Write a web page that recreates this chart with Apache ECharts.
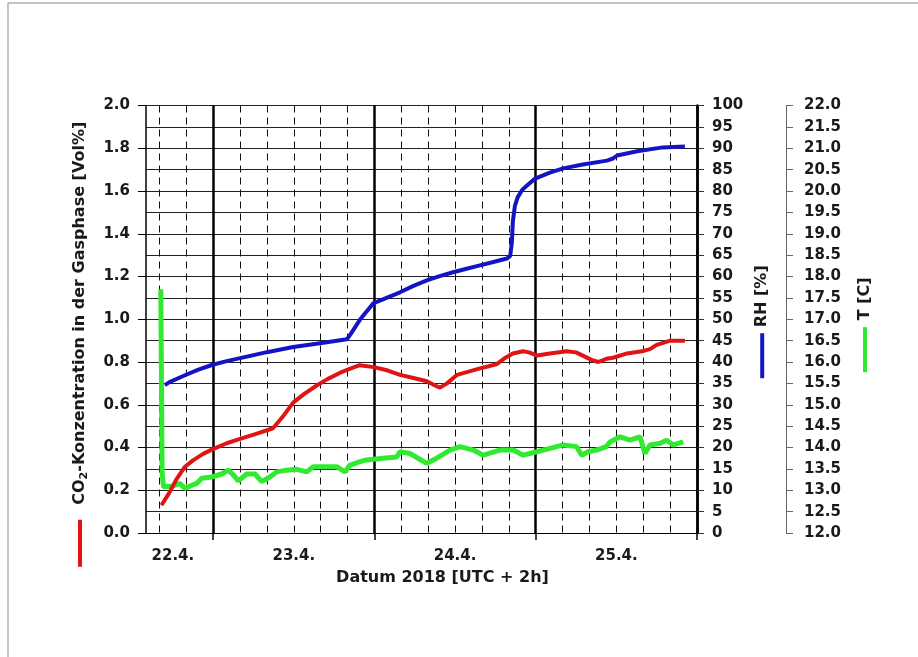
<!DOCTYPE html>
<html>
<head>
<meta charset="utf-8">
<script src="https://cdn.jsdelivr.net/npm/echarts@6/dist/echarts.min.js"></script>
<style>html,body{margin:0;padding:0;background:#fff;}#c{width:918px;height:657px;}</style>
</head>
<body>
<div id="c"></div>
<script>
// x values: hours since 22.4.2018 00:00 (UTC + 2h)
const dayLabelHours = [18, 36, 60, 84];
const dayLabels = ['22.4.', '23.4.', '24.4.', '25.4.'];
const dayBoundaryHours = [24, 48, 72, 96];
const fourHourHours = [16, 20, 28, 32, 36, 40, 44, 52, 56, 60, 64, 68, 76, 80, 84, 88, 92];

const co2Hours = [16.3, 17.5, 18.5, 19.8, 21.0, 22.5, 23.8, 26.0, 28.0, 30.5, 32.9, 34.5, 35.9, 37.5, 39.4, 41.0, 42.9, 44.5, 45.8, 47.9, 50.0, 51.8, 53.8, 55.8, 57.0, 57.75, 58.8, 60.3, 62.0, 63.7, 65.0, 66.2, 67.5, 68.6, 70.1, 71.0, 72.2, 74.1, 76.6, 78.0, 79.0, 80.3, 81.3, 82.5, 83.5, 85.6, 87.8, 89.0, 90.0, 92.0, 94.2];
const co2Values = [0.13, 0.19, 0.25, 0.31, 0.34, 0.37, 0.39, 0.42, 0.44, 0.465, 0.49, 0.55, 0.61, 0.65, 0.69, 0.72, 0.75, 0.77, 0.785, 0.776, 0.76, 0.74, 0.725, 0.71, 0.69, 0.68, 0.70, 0.74, 0.755, 0.77, 0.78, 0.79, 0.82, 0.84, 0.85, 0.845, 0.83, 0.84, 0.85, 0.845, 0.83, 0.81, 0.80, 0.815, 0.82, 0.84, 0.85, 0.86, 0.88, 0.90, 0.90];

const rhHours = [16.8, 17.5, 19.8, 21.8, 23.8, 26.0, 28.0, 32.0, 35.9, 39.9, 43.9, 44.4, 45.8, 47.8, 49.8, 51.8, 53.8, 55.8, 57.7, 59.7, 61.7, 63.7, 65.7, 67.7, 68.2, 68.45, 68.6, 68.9, 69.3, 70.0, 70.7, 71.9, 74.1, 76.1, 79.0, 82.6, 83.5, 84.1, 87.1, 90.9, 94.2];
const rhValues = [34.6, 35.3, 36.9, 38.2, 39.3, 40.2, 40.9, 42.3, 43.5, 44.4, 45.3, 46.4, 49.8, 53.7, 55.0, 56.3, 57.8, 59.1, 60.1, 61.0, 61.8, 62.6, 63.4, 64.2, 64.8, 68.0, 73.0, 76.5, 78.5, 80.3, 81.3, 82.9, 84.3, 85.3, 86.2, 87.1, 87.6, 88.3, 89.3, 90.2, 90.4];

const tHours = [16.2, 16.4, 16.6, 16.83, 18.06, 19.06, 19.8, 20.55, 21.54, 22.29, 23.78, 25.27, 26.25, 26.99, 27.74, 28.99, 30.22, 31.22, 32.45, 33.45, 34.94, 36.43, 37.91, 38.9, 40.38, 42.38, 43.61, 44.36, 45.85, 46.84, 49.31, 51.31, 51.8, 53.29, 55.77, 57.26, 59.24, 60.73, 62.71, 64.19, 66.68, 68.66, 70.15, 72.14, 74.12, 76.1, 78.09, 78.84, 79.8, 81.07, 82.5, 83.05, 84.54, 86.02, 87.51, 88.26, 89.0, 90.5, 91.49, 92.47, 93.96];
const tValues = [17.7, 13.4, 13.08, 13.04, 13.1, 13.16, 13.04, 13.1, 13.16, 13.28, 13.31, 13.38, 13.47, 13.36, 13.22, 13.38, 13.38, 13.2, 13.31, 13.43, 13.47, 13.49, 13.43, 13.55, 13.55, 13.55, 13.43, 13.59, 13.67, 13.71, 13.75, 13.78, 13.9, 13.86, 13.63, 13.75, 13.94, 14.02, 13.94, 13.82, 13.94, 13.94, 13.82, 13.9, 13.98, 14.06, 14.02, 13.82, 13.9, 13.94, 14.02, 14.13, 14.25, 14.17, 14.25, 13.86, 14.06, 14.1, 14.17, 14.06, 14.13];

const pair = (xs, ys) => xs.map((x, i) => [x, ys[i]]);
const FONT = 'DejaVu Sans';
const TXT = '#1a1a1a';
const RED = '#e01414', BLUE = '#1414c4', GREEN = '#30ea30';

const labelStyle = { fontFamily: FONT, fontWeight: 'bold', fontSize: 15, color: TXT };
function nameRich(barColor, barLen, gap, pad) {
  return {
    fontFamily: FONT, fontWeight: 'bold', fontSize: 16, color: TXT,
    rich: {
      t: { fontFamily: FONT, fontWeight: 'bold', fontSize: 16, color: TXT, lineHeight: 20 },
      s: { fontFamily: FONT, fontWeight: 'bold', fontSize: 11, color: TXT, lineHeight: 11, verticalAlign: 'bottom' },
      bar: { width: barLen, height: 4, backgroundColor: barColor, verticalAlign: 'middle' },
      g: { width: gap },
      pad: { width: pad }
    }
  };
}

const chart = echarts.init(document.getElementById('c'), null, { renderer: 'canvas' });
chart.setOption({
  backgroundColor: '#fff',
  animation: false,
  graphic: [{ type: 'rect', shape: { x: 8, y: 3, width: 960, height: 700 }, style: { fill: 'none', stroke: '#8a8a8a', lineWidth: 1 }, silent: true }],
  grid: { left: 146, right: 221, top: 105.5, bottom: 124 },
  xAxis: [
    {
      type: 'value', min: 14, max: 96, position: 'bottom',
      axisLine: { show: true, onZero: false, lineStyle: { color: '#000', width: 1 } },
      axisTick: { show: true, customValues: dayBoundaryHours, length: 7, lineStyle: { color: '#000', width: 1.5 } },
      axisLabel: { customValues: dayLabelHours, margin: 16, ...labelStyle, formatter: v => dayLabels[dayLabelHours.indexOf(v)] || '' },
      splitLine: { show: true, lineStyle: { color: '#000', width: 2.5 } },
      name: 'Datum 2018 [UTC + 2h]', nameLocation: 'middle', nameGap: 37,
      nameTextStyle: { fontFamily: FONT, fontWeight: 'bold', fontSize: 16, color: TXT, padding: [0, 0, 0, 42] }
    },
    {
      type: 'value', min: 14, max: 96, position: 'top',
      axisLine: { show: false }, axisLabel: { show: false },
      axisTick: { show: false, customValues: fourHourHours },
      splitLine: { show: true, lineStyle: { color: '#111', width: 1, type: [7, 5] } }
    }
  ],
  yAxis: [
    {
      type: 'value', min: 0, max: 2, interval: 0.2, position: 'left',
      axisLine: { show: true, lineStyle: { color: '#000', width: 1.5 } },
      axisTick: { show: true, length: 8, lineStyle: { color: '#000', width: 1 } },
      axisLabel: { ...labelStyle, margin: 16, formatter: v => v.toFixed(1) },
      splitLine: { show: false },
      name: '{bar| }{g| }{t|CO}{s|2}{t|-Konzentration in der Gasphase [Vol%]}{pad| }',
      nameLocation: 'middle', nameRotate: 90, nameGap: 56,
      nameTextStyle: nameRich(RED, 47, 15, 50)
    },
    {
      type: 'value', min: 0, max: 100, interval: 5, position: 'right',
      axisLine: { show: true, lineStyle: { color: '#000', width: 2.5 } },
      axisTick: { show: true, length: 7, lineStyle: { color: '#333', width: 1 } },
      axisLabel: { ...labelStyle, margin: 15 },
      splitLine: { show: true, lineStyle: { color: '#222', width: 1 } },
      name: '{bar| }{g| }{t|RH [%]}{pad| }',
      nameLocation: 'middle', nameRotate: 90, nameGap: 48,
      nameTextStyle: nameRich(BLUE, 45, 6, 5)
    },
    {
      type: 'value', min: 12, max: 22, interval: 0.5, position: 'right', offset: 89,
      axisLine: { show: true, lineStyle: { color: '#666', width: 1 } },
      axisTick: { show: true, length: 7, lineStyle: { color: '#666', width: 1 } },
      axisLabel: { ...labelStyle, margin: 18, formatter: v => v.toFixed(1) },
      splitLine: { show: false },
      name: '{bar| }{g| }{t|T [C]}{pad| }',
      nameLocation: 'middle', nameRotate: 90, nameGap: 69,
      nameTextStyle: nameRich(GREEN, 45, 7, 11)
    }
  ],
  series: [
    { type: 'line', name: 'T', xAxisIndex: 0, yAxisIndex: 2, data: pair(tHours, tValues), showSymbol: false, lineStyle: { color: GREEN, width: 5 }, itemStyle: { color: GREEN } },
    { type: 'line', name: 'RH', xAxisIndex: 0, yAxisIndex: 1, data: pair(rhHours, rhValues), showSymbol: false, lineStyle: { color: BLUE, width: 4 }, itemStyle: { color: BLUE } },
    { type: 'line', name: 'CO2', xAxisIndex: 0, yAxisIndex: 0, data: pair(co2Hours, co2Values), showSymbol: false, lineStyle: { color: RED, width: 4 }, itemStyle: { color: RED } }
  ]
});
</script>
</body>
</html>
